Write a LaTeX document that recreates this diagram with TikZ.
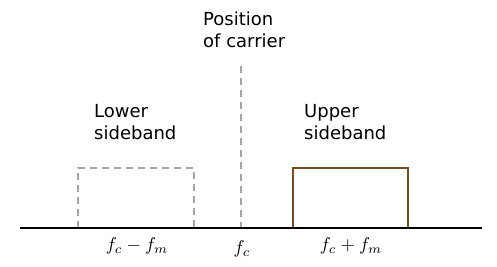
\documentclass[tikz,border=0pt]{standalone}
\usepackage{fontspec}
\setmainfont{DejaVu Sans}
\usepackage{xcolor}
\usepackage{graphicx}
\usepackage{tikz}
\usetikzlibrary{positioning}
\definecolor{bandbrown}{RGB}{122,76,32}
\definecolor{dashgray}{RGB}{165,165,165}
\newcommand{\freqtxt}[1]{\scalebox{1.85}{$#1$}}

\begin{document}
\begin{tikzpicture}[x=1pt, y=-1pt,
  lbl/.style={font=\fontsize{18}{22}\selectfont, align=left, inner sep=0pt, anchor=north west},
  freq/.style={inner sep=0pt},
  dashline/.style={draw=dashgray, line width=1.5pt, dash pattern=on 7pt off 5pt}]
  \useasboundingbox (0,0) rectangle (497,266);

  %% Carrier
  \node[lbl] (carrier) at (203,12) {Position\\of carrier};
  \draw[dashline] (241,66) -- (241,228);

  %% Sidebands
  \draw[dashline] (78,228) -- (78,168) -- (194,168) -- (194,228);
  \draw[draw=bandbrown, line width=1.5pt] (293,228) -- (293,168) -- (408,168) -- (408,228);
  \node[lbl] (lower) at (94,104) {Lower\\sideband};
  \node[lbl] (upper) at (304,104) {Upper\\sideband};

  %% Frequency axis
  \draw[line width=2pt] (20,228) -- (482,228);
  \node[freq] (fl) at (137,246) {\freqtxt{f_c - f_m}};
  \node[freq] (fc) at (242,249) {\freqtxt{f_c}};
  \node[freq] (fu) at (351,246) {\freqtxt{f_c + f_m}};
\end{tikzpicture}
\end{document}
